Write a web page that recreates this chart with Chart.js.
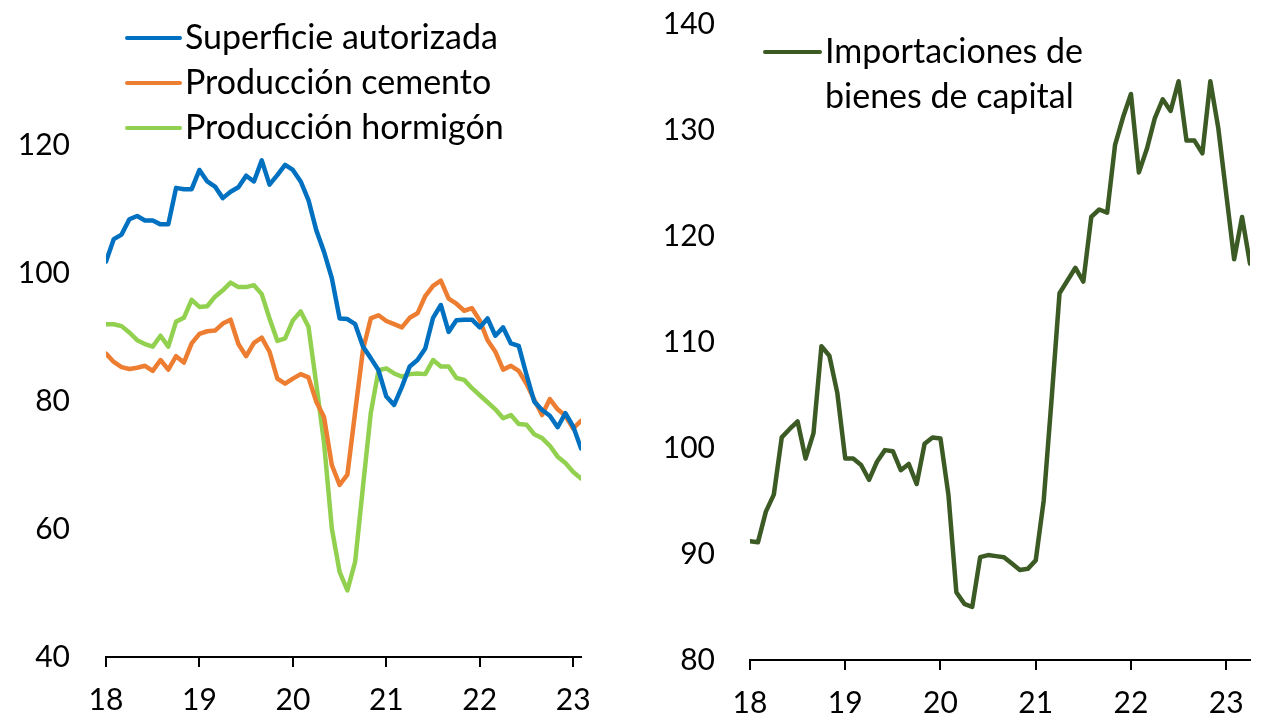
<!DOCTYPE html>
<html>
<head>
<meta charset="utf-8">
<script src="https://cdn.jsdelivr.net/npm/chart.js@4.4.0/dist/chart.umd.min.js"></script>
<style>
html, body { margin: 0; padding: 0; background: #fff; }
#wrap { position: relative; width: 1274px; height: 721px; overflow: hidden; }
#left { position: absolute; left: 0; top: 0; width: 640px; height: 721px; }
#right { position: absolute; left: 640px; top: 0; width: 634px; height: 721px; }
</style>
</head>
<body>
<div id="wrap">
  <canvas id="left" width="640" height="721"></canvas>
  <canvas id="right" width="634" height="721"></canvas>
</div>
<script>
// monthly data, Jan 2018 onwards
const yearTicks = [0, 12, 24, 36, 48, 60];
const yearLabels = ['18', '19', '20', '21', '22', '23'];

const superficie = [101.8, 105.3, 106.0, 108.4, 108.9, 108.2, 108.2, 107.6, 107.6, 113.3, 113.1, 113.1,
  116.1, 114.3, 113.5, 111.7, 112.7, 113.4, 115.2, 114.3, 117.6, 113.8, 115.3, 116.9,
  116.1, 114.3, 111.4, 106.7, 103.3, 99.2, 92.9, 92.8, 92.0, 88.5, 86.7, 84.8,
  80.7, 79.4, 82.2, 85.4, 86.4, 88.2, 93.0, 95.0, 90.8, 92.6, 92.7, 92.7,
  91.5, 92.9, 90.2, 91.5, 89.0, 88.6, 84.1, 79.9, 78.6, 77.7, 75.9, 78.1,
  76.0, 72.6];

const cemento = [87.4, 86.1, 85.3, 85.0, 85.2, 85.5, 84.7, 86.4, 84.9, 87.0, 86.0, 89.0,
  90.5, 90.9, 91.0, 92.1, 92.7, 88.9, 87.0, 89.1, 89.9, 87.7, 83.5, 82.7,
  83.5, 84.2, 83.7, 79.9, 77.5, 70.0, 66.9, 68.5, 78.3, 88.0, 92.9, 93.4,
  92.5, 92.0, 91.5, 93.0, 93.7, 96.4, 98.0, 98.8, 96.0, 95.2, 94.1, 94.5,
  92.6, 89.5, 87.7, 84.9, 85.5, 84.7, 82.7, 80.2, 77.8, 80.3, 78.7, 77.7,
  75.7, 76.9];

const hormigon = [92.0, 92.0, 91.7, 90.7, 89.5, 88.9, 88.5, 90.2, 88.5, 92.4, 93.0, 95.8,
  94.7, 94.8, 96.3, 97.3, 98.5, 97.8, 97.8, 98.1, 96.7, 92.9, 89.4, 89.8,
  92.6, 94.0, 91.6, 82.7, 73.5, 60.1, 53.3, 50.4, 54.9, 66.6, 78.1, 84.8,
  85.1, 84.3, 83.8, 84.2, 84.3, 84.2, 86.4, 85.4, 85.4, 83.6, 83.3, 82.0,
  80.9, 79.8, 78.7, 77.3, 77.8, 76.4, 76.3, 74.8, 74.2, 73.0, 71.3, 70.3,
  68.9, 67.9];

// Jan 2018 - Apr 2023
const importaciones = [91.2, 91.1, 94.0, 95.6, 101.0, 101.8, 102.5, 99.0, 101.4, 109.6, 108.7, 105.2,
  99.0, 99.0, 98.4, 97.0, 98.7, 99.8, 99.7, 97.9, 98.5, 96.6, 100.4, 101.0,
  100.9, 95.6, 86.4, 85.3, 85.0, 89.7, 89.9, 89.8, 89.7, 89.1, 88.5, 88.6,
  89.4, 95.0, 104.6, 114.6, 115.8, 117.0, 115.7, 121.8, 122.5, 122.2, 128.6, 131.2,
  133.4, 126.0, 128.2, 131.1, 132.9, 131.8, 134.6, 129.0, 129.0, 127.8, 134.6, 130.2,
  124.0, 117.8, 121.8, 117.4];

const FONT = 'Lato, "Open Sans", sans-serif';

function toPoints(values) {
  return values.map((v, i) => ({ x: i, y: v }));
}

// legend drawn by hand so the right one can wrap onto two lines
const sideLegend = {
  id: 'sideLegend',
  afterDraw(chart, args, opts) {
    const ctx = chart.ctx;
    ctx.save();
    ctx.font = opts.fontSize + 'px ' + FONT;
    ctx.textBaseline = 'middle';
    ctx.textAlign = 'left';
    chart.data.datasets.forEach((ds, k) => {
      const y = opts.y + k * opts.gap;
      ctx.strokeStyle = ds.borderColor;
      ctx.lineWidth = 4;
      ctx.lineCap = 'round';
      ctx.beginPath();
      ctx.moveTo(opts.x0, y);
      ctx.lineTo(opts.x1, y);
      ctx.stroke();
      ctx.fillStyle = '#000';
      const lines = Array.isArray(ds.label) ? ds.label : [ds.label];
      lines.forEach((t, j) => ctx.fillText(t, opts.textX, y + j * opts.gap));
    });
    ctx.restore();
  }
};

function lineSet(label, values, color) {
  return {
    label: label,
    data: toPoints(values),
    borderColor: color,
    backgroundColor: color,
    borderWidth: 4.5,
    pointRadius: 0,
    tension: 0,
    fill: false,
    borderJoinStyle: 'round',
    borderCapStyle: 'round'
  };
}

function xScale(maxX, height) {
  return {
    type: 'linear',
    min: 0,
    max: maxX,
    afterBuildTicks: s => { s.ticks = yearTicks.map(v => ({ value: v })); },
    afterFit: s => { s.height = height; },
    ticks: {
      color: '#000',
      font: { family: FONT, size: 30 },
      padding: 15,
      maxRotation: 0,
      callback: v => yearLabels[yearTicks.indexOf(v)]
    },
    grid: { display: true, drawOnChartArea: false, drawTicks: true, tickLength: 10, color: '#000', lineWidth: 2 },
    border: { display: true, color: '#000', width: 2 }
  };
}

// gap between labels and plot comes from an invisible tick length,
// so it does not push the plot area down
function yScale(min, max, step, width, gap, hideTop) {
  return {
    min: min,
    max: max,
    afterFit: s => { s.width = width; },
    ticks: {
      stepSize: step,
      color: '#000',
      font: { family: FONT, size: 30, lineHeight: 1 },
      padding: 0,
      callback: v => (hideTop && v === max) ? '' : v
    },
    grid: { display: false, drawTicks: true, tickLength: gap },
    border: { display: false }
  };
}

new Chart(document.getElementById('left'), {
  type: 'line',
  data: {
    datasets: [
      lineSet('Superficie autorizada', superficie, '#0070C0'),
      lineSet('Producción cemento', cemento, '#ED7D31'),
      lineSet('Producción hormigón', hormigon, '#92D050')
    ]
  },
  options: {
    responsive: false,
    animation: false,
    layout: { padding: { top: 17, right: 59, bottom: 0, left: 0 } },
    plugins: {
      legend: { display: false },
      tooltip: { enabled: false },
      sideLegend: { x0: 127, x1: 180, textX: 185, y: 38, gap: 45, fontSize: 34 }
    },
    scales: {
      x: xScale(61, 64),
      y: yScale(40, 140, 20, 106, 36, true)
    }
  },
  plugins: [sideLegend]
});

new Chart(document.getElementById('right'), {
  type: 'line',
  data: {
    datasets: [
      lineSet(['Importaciones de', 'bienes de capital'], importaciones, '#3B5A24')
    ]
  },
  options: {
    responsive: false,
    animation: false,
    layout: { padding: { top: 24, right: 24, bottom: 0, left: 0 } },
    plugins: {
      legend: { display: false },
      tooltip: { enabled: false },
      sideLegend: { x0: 125, x1: 180, textX: 185, y: 52, gap: 45, fontSize: 34 }
    },
    scales: {
      x: xScale(63, 61),
      y: yScale(80, 140, 10, 110, 35, false)
    }
  },
  plugins: [sideLegend]
});
</script>
</body>
</html>
